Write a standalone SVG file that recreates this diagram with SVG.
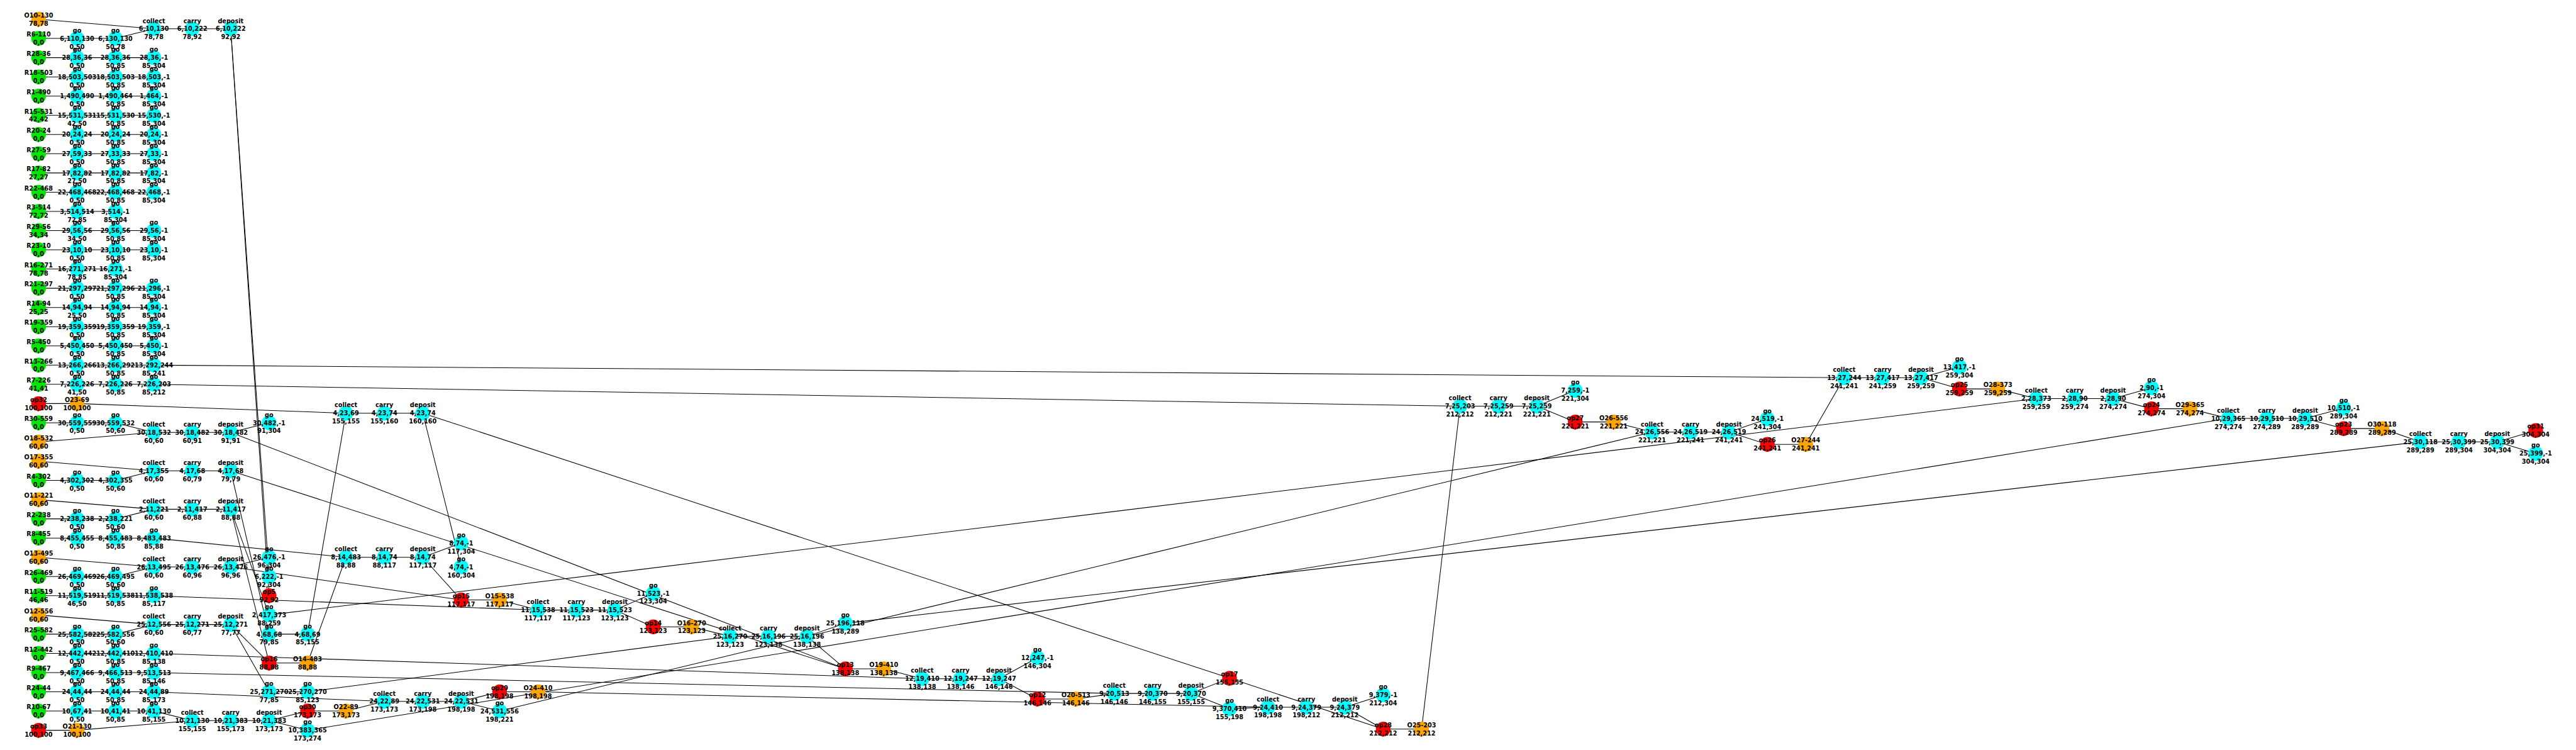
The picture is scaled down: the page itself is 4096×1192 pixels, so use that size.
<svg xmlns="http://www.w3.org/2000/svg" width="4096" height="1192" viewBox="0 0 4096 1192">
<style>
.c{fill:#00ffff}.g{fill:#00e600}.o{fill:#ffa500}.r{fill:#ff0000}
text{font-family:"DejaVu Sans","Liberation Sans",sans-serif;font-size:12px;font-weight:bold;text-anchor:middle;fill:#000}
#edges line{stroke:#000;stroke-width:1.3}
</style>
<rect width="4096" height="1192" fill="#fff"/>
<g transform="scale(0.808)">
<g id="edges">
<line x1="76" y1="75.6" x2="151.6" y2="75.6"/><line x1="151.6" y1="75.6" x2="227.2" y2="75.6"/><line x1="227.2" y1="75.6" x2="302.8" y2="56.7"/>
<line x1="76" y1="37.8" x2="302.8" y2="56.7"/><line x1="302.8" y1="56.7" x2="378.4" y2="56.7"/><line x1="378.4" y1="56.7" x2="454" y2="56.7"/>
<line x1="454" y1="56.7" x2="529.6" y2="1134"/><line x1="454" y1="56.7" x2="529.6" y2="1171.8"/>
<line x1="76" y1="113.4" x2="151.6" y2="113.4"/><line x1="151.6" y1="113.4" x2="227.2" y2="113.4"/><line x1="227.2" y1="113.4" x2="302.8" y2="113.4"/>
<line x1="76" y1="151.2" x2="151.6" y2="151.2"/><line x1="151.6" y1="151.2" x2="227.2" y2="151.2"/><line x1="227.2" y1="151.2" x2="302.8" y2="151.2"/>
<line x1="76" y1="189" x2="151.6" y2="189"/><line x1="151.6" y1="189" x2="227.2" y2="189"/><line x1="227.2" y1="189" x2="302.8" y2="189"/>
<line x1="76" y1="226.8" x2="151.6" y2="226.8"/><line x1="151.6" y1="226.8" x2="227.2" y2="226.8"/><line x1="227.2" y1="226.8" x2="302.8" y2="226.8"/>
<line x1="76" y1="264.6" x2="151.6" y2="264.6"/><line x1="151.6" y1="264.6" x2="227.2" y2="264.6"/><line x1="227.2" y1="264.6" x2="302.8" y2="264.6"/>
<line x1="76" y1="302.4" x2="151.6" y2="302.4"/><line x1="151.6" y1="302.4" x2="227.2" y2="302.4"/><line x1="227.2" y1="302.4" x2="302.8" y2="302.4"/>
<line x1="76" y1="340.2" x2="151.6" y2="340.2"/><line x1="151.6" y1="340.2" x2="227.2" y2="340.2"/><line x1="227.2" y1="340.2" x2="302.8" y2="340.2"/>
<line x1="76" y1="378" x2="151.6" y2="378"/><line x1="151.6" y1="378" x2="227.2" y2="378"/><line x1="227.2" y1="378" x2="302.8" y2="378"/>
<line x1="76" y1="415.8" x2="151.6" y2="415.8"/><line x1="151.6" y1="415.8" x2="227.2" y2="415.8"/>
<line x1="76" y1="453.6" x2="151.6" y2="453.6"/><line x1="151.6" y1="453.6" x2="227.2" y2="453.6"/><line x1="227.2" y1="453.6" x2="302.8" y2="453.6"/>
<line x1="76" y1="491.4" x2="151.6" y2="491.4"/><line x1="151.6" y1="491.4" x2="227.2" y2="491.4"/><line x1="227.2" y1="491.4" x2="302.8" y2="491.4"/>
<line x1="76" y1="529.2" x2="151.6" y2="529.2"/><line x1="151.6" y1="529.2" x2="227.2" y2="529.2"/>
<line x1="76" y1="567" x2="151.6" y2="567"/><line x1="151.6" y1="567" x2="227.2" y2="567"/><line x1="227.2" y1="567" x2="302.8" y2="567"/>
<line x1="76" y1="604.8" x2="151.6" y2="604.8"/><line x1="151.6" y1="604.8" x2="227.2" y2="604.8"/><line x1="227.2" y1="604.8" x2="302.8" y2="604.8"/>
<line x1="76" y1="642.6" x2="151.6" y2="642.6"/><line x1="151.6" y1="642.6" x2="227.2" y2="642.6"/><line x1="227.2" y1="642.6" x2="302.8" y2="642.6"/>
<line x1="76" y1="680.4" x2="151.6" y2="680.4"/><line x1="151.6" y1="680.4" x2="227.2" y2="680.4"/><line x1="227.2" y1="680.4" x2="302.8" y2="680.4"/>
<line x1="76" y1="718.2" x2="151.6" y2="718.2"/><line x1="151.6" y1="718.2" x2="227.2" y2="718.2"/><line x1="227.2" y1="718.2" x2="302.8" y2="718.2"/>
<line x1="302.8" y1="718.2" x2="3629.2" y2="743"/>
<line x1="76" y1="756" x2="151.6" y2="756"/><line x1="151.6" y1="756" x2="227.2" y2="756"/><line x1="227.2" y1="756" x2="302.8" y2="756"/>
<line x1="302.8" y1="756" x2="2873.2" y2="799"/>
<line x1="76" y1="793.8" x2="151.6" y2="793.8"/><line x1="151.6" y1="793.8" x2="680.8" y2="812.7"/>
<line x1="76" y1="831.6" x2="151.6" y2="831.6"/><line x1="151.6" y1="831.6" x2="227.2" y2="831.6"/><line x1="227.2" y1="831.6" x2="302.8" y2="850.5"/>
<line x1="76" y1="869.4" x2="302.8" y2="850.5"/><line x1="302.8" y1="850.5" x2="378.4" y2="850.5"/><line x1="378.4" y1="850.5" x2="454" y2="850.5"/>
<line x1="454" y1="850.5" x2="529.6" y2="831.6"/><line x1="454" y1="850.5" x2="1663.6" y2="1315.7"/>
<line x1="76" y1="945" x2="151.6" y2="945"/><line x1="151.6" y1="945" x2="227.2" y2="945"/><line x1="227.2" y1="945" x2="302.8" y2="926.1"/>
<line x1="76" y1="907.2" x2="302.8" y2="926.1"/><line x1="302.8" y1="926.1" x2="378.4" y2="926.1"/><line x1="378.4" y1="926.1" x2="454" y2="926.1"/>
<line x1="454" y1="926.1" x2="529.6" y2="1247.4"/><line x1="454" y1="926.1" x2="1663.6" y2="1315.7"/>
<line x1="76" y1="1020.6" x2="151.6" y2="1020.6"/><line x1="151.6" y1="1020.6" x2="227.2" y2="1020.6"/><line x1="227.2" y1="1020.6" x2="302.8" y2="1001.7"/>
<line x1="76" y1="982.8" x2="302.8" y2="1001.7"/><line x1="302.8" y1="1001.7" x2="378.4" y2="1001.7"/><line x1="378.4" y1="1001.7" x2="454" y2="1001.7"/>
<line x1="454" y1="1001.7" x2="529.6" y2="1209.6"/><line x1="454" y1="1001.7" x2="529.6" y2="1304.1"/>
<line x1="76" y1="1058.4" x2="151.6" y2="1058.4"/><line x1="151.6" y1="1058.4" x2="227.2" y2="1058.4"/><line x1="227.2" y1="1058.4" x2="302.8" y2="1058.4"/>
<line x1="302.8" y1="1058.4" x2="680.8" y2="1096.2"/>
<line x1="76" y1="1134" x2="151.6" y2="1134"/><line x1="151.6" y1="1134" x2="227.2" y2="1134"/><line x1="227.2" y1="1134" x2="302.8" y2="1115.1"/>
<line x1="76" y1="1096.2" x2="302.8" y2="1115.1"/><line x1="302.8" y1="1115.1" x2="378.4" y2="1115.1"/><line x1="378.4" y1="1115.1" x2="454" y2="1115.1"/>
<line x1="454" y1="1115.1" x2="529.6" y2="1096.2"/><line x1="454" y1="1115.1" x2="907.6" y2="1180"/>
<line x1="76" y1="1171.8" x2="151.6" y2="1171.8"/><line x1="151.6" y1="1171.8" x2="227.2" y2="1171.8"/><line x1="227.2" y1="1171.8" x2="302.8" y2="1171.8"/>
<line x1="302.8" y1="1171.8" x2="1058.8" y2="1200"/>
<line x1="76" y1="1247.4" x2="151.6" y2="1247.4"/><line x1="151.6" y1="1247.4" x2="227.2" y2="1247.4"/><line x1="227.2" y1="1247.4" x2="302.8" y2="1228.5"/>
<line x1="76" y1="1209.6" x2="302.8" y2="1228.5"/><line x1="302.8" y1="1228.5" x2="378.4" y2="1228.5"/><line x1="378.4" y1="1228.5" x2="454" y2="1228.5"/>
<line x1="454" y1="1228.5" x2="529.6" y2="1360.8"/><line x1="454" y1="1228.5" x2="529.6" y2="1304.1"/>
<line x1="76" y1="1285.2" x2="151.6" y2="1285.2"/><line x1="151.6" y1="1285.2" x2="227.2" y2="1285.2"/><line x1="227.2" y1="1285.2" x2="302.8" y2="1285.2"/>
<line x1="302.8" y1="1285.2" x2="1814.8" y2="1335"/>
<line x1="76" y1="1323" x2="151.6" y2="1323"/><line x1="151.6" y1="1323" x2="227.2" y2="1323"/><line x1="227.2" y1="1323" x2="302.8" y2="1323"/>
<line x1="302.8" y1="1323" x2="2192.8" y2="1364"/>
<line x1="76" y1="1360.8" x2="151.6" y2="1360.8"/><line x1="151.6" y1="1360.8" x2="227.2" y2="1360.8"/><line x1="227.2" y1="1360.8" x2="302.8" y2="1360.8"/>
<line x1="302.8" y1="1360.8" x2="756.4" y2="1379.7"/>
<line x1="76" y1="1398.6" x2="151.6" y2="1398.6"/><line x1="151.6" y1="1398.6" x2="227.2" y2="1398.6"/><line x1="227.2" y1="1398.6" x2="302.8" y2="1398.6"/>
<line x1="302.8" y1="1398.6" x2="378.4" y2="1417.5"/>
<line x1="76" y1="1436.4" x2="151.6" y2="1436.4"/><line x1="151.6" y1="1436.4" x2="378.4" y2="1417.5"/>
<line x1="378.4" y1="1417.5" x2="454" y2="1417.5"/><line x1="454" y1="1417.5" x2="529.6" y2="1417.5"/>
<line x1="529.6" y1="1417.5" x2="605.2" y2="1398.6"/><line x1="529.6" y1="1417.5" x2="605.2" y2="1436.4"/>
<line x1="529.6" y1="1247.4" x2="605.2" y2="1247.4"/><line x1="605.2" y1="1247.4" x2="680.8" y2="812.7"/>
<line x1="680.8" y1="812.7" x2="756.4" y2="812.7"/><line x1="756.4" y1="812.7" x2="832" y2="812.7"/>
<line x1="832" y1="812.7" x2="907.6" y2="1115.1"/><line x1="832" y1="812.7" x2="2419.6" y2="1334"/>
<line x1="529.6" y1="1304.1" x2="605.2" y2="1304.1"/><line x1="605.2" y1="1304.1" x2="680.8" y2="1096.2"/>
<line x1="680.8" y1="1096.2" x2="756.4" y2="1096.2"/><line x1="756.4" y1="1096.2" x2="832" y2="1096.2"/>
<line x1="832" y1="1096.2" x2="907.6" y2="1068"/><line x1="832" y1="1096.2" x2="907.6" y2="1180"/>
<line x1="907.6" y1="1180" x2="983.2" y2="1180"/><line x1="983.2" y1="1180" x2="1058.8" y2="1200"/>
<line x1="1058.8" y1="1200" x2="1134.4" y2="1200"/><line x1="1134.4" y1="1200" x2="1210" y2="1200"/>
<line x1="1210" y1="1200" x2="1285.6" y2="1167"/><line x1="1210" y1="1200" x2="1285.6" y2="1233"/>
<line x1="1285.6" y1="1233" x2="1361.2" y2="1233"/><line x1="1361.2" y1="1233" x2="1436.8" y2="1251.7"/>
<line x1="529.6" y1="1360.8" x2="605.2" y2="1360.8"/><line x1="605.2" y1="1360.8" x2="1436.8" y2="1251.7"/>
<line x1="1436.8" y1="1251.7" x2="1512.4" y2="1251.7"/><line x1="1512.4" y1="1251.7" x2="1588" y2="1251.7"/>
<line x1="1588" y1="1251.7" x2="1663.6" y2="1226"/><line x1="1588" y1="1251.7" x2="1663.6" y2="1315.7"/>
<line x1="1663.6" y1="1226" x2="4763.2" y2="869"/>
<line x1="1663.6" y1="1315.7" x2="1739.2" y2="1315.7"/><line x1="1739.2" y1="1315.7" x2="1814.8" y2="1335"/>
<line x1="1814.8" y1="1335" x2="1890.4" y2="1335"/><line x1="1890.4" y1="1335" x2="1966" y2="1335"/>
<line x1="1966" y1="1335" x2="2041.6" y2="1294"/><line x1="1966" y1="1335" x2="2041.6" y2="1375"/>
<line x1="2041.6" y1="1375" x2="2117.2" y2="1375"/><line x1="2117.2" y1="1375" x2="2192.8" y2="1364"/>
<line x1="2192.8" y1="1364" x2="2268.4" y2="1364"/><line x1="2268.4" y1="1364" x2="2344" y2="1364"/>
<line x1="2344" y1="1364" x2="2419.6" y2="1334"/><line x1="2344" y1="1364" x2="2419.6" y2="1394"/>
<line x1="2419.6" y1="1394" x2="2495.2" y2="1391"/>
<line x1="2495.2" y1="1391" x2="2570.8" y2="1391"/><line x1="2570.8" y1="1391" x2="2646.4" y2="1391"/>
<line x1="2646.4" y1="1391" x2="2722" y2="1367"/><line x1="2646.4" y1="1391" x2="2722" y2="1434"/>
<line x1="2419.6" y1="1334" x2="2722" y2="1434"/>
<line x1="2722" y1="1434" x2="2797.6" y2="1434"/><line x1="2797.6" y1="1434" x2="2873.2" y2="799"/>
<line x1="605.2" y1="1398.6" x2="680.8" y2="1398.6"/><line x1="680.8" y1="1398.6" x2="756.4" y2="1379.7"/>
<line x1="756.4" y1="1379.7" x2="832" y2="1379.7"/><line x1="832" y1="1379.7" x2="907.6" y2="1379.7"/>
<line x1="907.6" y1="1379.7" x2="983.2" y2="1360.8"/><line x1="907.6" y1="1379.7" x2="983.2" y2="1398.6"/>
<line x1="983.2" y1="1360.8" x2="1058.8" y2="1360.8"/><line x1="1058.8" y1="1360.8" x2="2495.2" y2="1391"/>
<line x1="983.2" y1="1398.6" x2="3251.2" y2="850"/>
<line x1="605.2" y1="1436.4" x2="4385.2" y2="823"/>
<line x1="529.6" y1="1209.6" x2="4007.2" y2="784"/>
<line x1="2873.2" y1="799" x2="2948.8" y2="799"/><line x1="2948.8" y1="799" x2="3024.4" y2="799"/>
<line x1="3024.4" y1="799" x2="3100" y2="768"/><line x1="3024.4" y1="799" x2="3100" y2="830"/>
<line x1="3100" y1="830" x2="3175.6" y2="830"/><line x1="3175.6" y1="830" x2="3251.2" y2="850"/>
<line x1="3251.2" y1="850" x2="3326.8" y2="850"/><line x1="3326.8" y1="850" x2="3402.4" y2="850"/>
<line x1="3402.4" y1="850" x2="3478" y2="824"/><line x1="3402.4" y1="850" x2="3478" y2="874"/>
<line x1="3478" y1="874" x2="3553.6" y2="874"/><line x1="3553.6" y1="874" x2="3629.2" y2="743"/>
<line x1="3629.2" y1="743" x2="3704.8" y2="743"/><line x1="3704.8" y1="743" x2="3780.4" y2="743"/>
<line x1="3780.4" y1="743" x2="3856" y2="721.7"/><line x1="3780.4" y1="743" x2="3856" y2="765"/>
<line x1="3856" y1="765" x2="3931.6" y2="765"/><line x1="3931.6" y1="765" x2="4007.2" y2="784"/>
<line x1="4007.2" y1="784" x2="4082.8" y2="784"/><line x1="4082.8" y1="784" x2="4158.4" y2="784"/>
<line x1="4158.4" y1="784" x2="4234" y2="763"/><line x1="4158.4" y1="784" x2="4234" y2="804"/>
<line x1="4234" y1="804" x2="4309.6" y2="804"/><line x1="4309.6" y1="804" x2="4385.2" y2="823"/>
<line x1="4385.2" y1="823" x2="4460.8" y2="823"/><line x1="4460.8" y1="823" x2="4536.4" y2="823"/>
<line x1="4536.4" y1="823" x2="4612" y2="803"/><line x1="4536.4" y1="823" x2="4612" y2="843"/>
<line x1="4612" y1="843" x2="4687.6" y2="843"/><line x1="4687.6" y1="843" x2="4763.2" y2="869"/>
<line x1="4763.2" y1="869" x2="4838.8" y2="869"/><line x1="4838.8" y1="869" x2="4914.4" y2="869"/>
<line x1="4914.4" y1="869" x2="4990" y2="846.7"/><line x1="4914.4" y1="869" x2="4990" y2="892"/>
</g>
<g id="nodes">
<g id="O10-130" transform="translate(76,37.8)"><circle class="o" r="14.5"/><text y="-3.4">O10-130<tspan x="0" dy="16">78,78</tspan></text></g>
<g id="collect_6_10_130" transform="translate(302.8,56.7)"><circle class="c" r="14.5"/><text y="-11.5">collect<tspan x="0" dy="16">6,10,130</tspan><tspan x="0" dy="16">78,78</tspan></text></g>
<g id="carry_6_10_222" transform="translate(378.4,56.7)"><circle class="c" r="14.5"/><text y="-11.5">carry<tspan x="0" dy="16">6,10,222</tspan><tspan x="0" dy="16">78,92</tspan></text></g>
<g id="deposit_6_10_222" transform="translate(454,56.7)"><circle class="c" r="14.5"/><text y="-11.5">deposit<tspan x="0" dy="16">6,10,222</tspan><tspan x="0" dy="16">92,92</tspan></text></g>
<g id="R6-110" transform="translate(76,75.6)"><circle class="g" r="14.5"/><text y="-3.4">R6-110<tspan x="0" dy="16">0,0</tspan></text></g>
<g id="go_6_110_130" transform="translate(151.6,75.6)"><circle class="c" r="14.5"/><text y="-11.5">go<tspan x="0" dy="16">6,110,130</tspan><tspan x="0" dy="16">0,50</tspan></text></g>
<g id="go_6_130_130" transform="translate(227.2,75.6)"><circle class="c" r="14.5"/><text y="-11.5">go<tspan x="0" dy="16">6,130,130</tspan><tspan x="0" dy="16">50,78</tspan></text></g>
<g id="R28-36" transform="translate(76,113.4)"><circle class="g" r="14.5"/><text y="-3.4">R28-36<tspan x="0" dy="16">0,0</tspan></text></g>
<g id="go_28_36_36_a" transform="translate(151.6,113.4)"><circle class="c" r="14.5"/><text y="-11.5">go<tspan x="0" dy="16">28,36,36</tspan><tspan x="0" dy="16">0,50</tspan></text></g>
<g id="go_28_36_36_b" transform="translate(227.2,113.4)"><circle class="c" r="14.5"/><text y="-11.5">go<tspan x="0" dy="16">28,36,36</tspan><tspan x="0" dy="16">50,85</tspan></text></g>
<g id="go_28_36_end" transform="translate(302.8,113.4)"><circle class="c" r="14.5"/><text y="-11.5">go<tspan x="0" dy="16">28,36,-1</tspan><tspan x="0" dy="16">85,304</tspan></text></g>
<g id="R18-503" transform="translate(76,151.2)"><circle class="g" r="14.5"/><text y="-3.4">R18-503<tspan x="0" dy="16">0,0</tspan></text></g>
<g id="go_18_503_503_a" transform="translate(151.6,151.2)"><circle class="c" r="14.5"/><text y="-11.5">go<tspan x="0" dy="16">18,503,503</tspan><tspan x="0" dy="16">0,50</tspan></text></g>
<g id="go_18_503_503_b" transform="translate(227.2,151.2)"><circle class="c" r="14.5"/><text y="-11.5">go<tspan x="0" dy="16">18,503,503</tspan><tspan x="0" dy="16">50,85</tspan></text></g>
<g id="go_18_503_end" transform="translate(302.8,151.2)"><circle class="c" r="14.5"/><text y="-11.5">go<tspan x="0" dy="16">18,503,-1</tspan><tspan x="0" dy="16">85,304</tspan></text></g>
<g id="R1-490" transform="translate(76,189)"><circle class="g" r="14.5"/><text y="-3.4">R1-490<tspan x="0" dy="16">0,0</tspan></text></g>
<g id="go_1_490_490" transform="translate(151.6,189)"><circle class="c" r="14.5"/><text y="-11.5">go<tspan x="0" dy="16">1,490,490</tspan><tspan x="0" dy="16">0,50</tspan></text></g>
<g id="go_1_490_464" transform="translate(227.2,189)"><circle class="c" r="14.5"/><text y="-11.5">go<tspan x="0" dy="16">1,490,464</tspan><tspan x="0" dy="16">50,85</tspan></text></g>
<g id="go_1_464_end" transform="translate(302.8,189)"><circle class="c" r="14.5"/><text y="-11.5">go<tspan x="0" dy="16">1,464,-1</tspan><tspan x="0" dy="16">85,304</tspan></text></g>
<g id="R15-531" transform="translate(76,226.8)"><circle class="g" r="14.5"/><text y="-3.4">R15-531<tspan x="0" dy="16">42,42</tspan></text></g>
<g id="go_15_531_531" transform="translate(151.6,226.8)"><circle class="c" r="14.5"/><text y="-11.5">go<tspan x="0" dy="16">15,531,531</tspan><tspan x="0" dy="16">42,50</tspan></text></g>
<g id="go_15_531_530" transform="translate(227.2,226.8)"><circle class="c" r="14.5"/><text y="-11.5">go<tspan x="0" dy="16">15,531,530</tspan><tspan x="0" dy="16">50,85</tspan></text></g>
<g id="go_15_530_end" transform="translate(302.8,226.8)"><circle class="c" r="14.5"/><text y="-11.5">go<tspan x="0" dy="16">15,530,-1</tspan><tspan x="0" dy="16">85,304</tspan></text></g>
<g id="R20-24" transform="translate(76,264.6)"><circle class="g" r="14.5"/><text y="-3.4">R20-24<tspan x="0" dy="16">0,0</tspan></text></g>
<g id="go_20_24_24_a" transform="translate(151.6,264.6)"><circle class="c" r="14.5"/><text y="-11.5">go<tspan x="0" dy="16">20,24,24</tspan><tspan x="0" dy="16">0,50</tspan></text></g>
<g id="go_20_24_24_b" transform="translate(227.2,264.6)"><circle class="c" r="14.5"/><text y="-11.5">go<tspan x="0" dy="16">20,24,24</tspan><tspan x="0" dy="16">50,85</tspan></text></g>
<g id="go_20_24_end" transform="translate(302.8,264.6)"><circle class="c" r="14.5"/><text y="-11.5">go<tspan x="0" dy="16">20,24,-1</tspan><tspan x="0" dy="16">85,304</tspan></text></g>
<g id="R27-59" transform="translate(76,302.4)"><circle class="g" r="14.5"/><text y="-3.4">R27-59<tspan x="0" dy="16">0,0</tspan></text></g>
<g id="go_27_59_33" transform="translate(151.6,302.4)"><circle class="c" r="14.5"/><text y="-11.5">go<tspan x="0" dy="16">27,59,33</tspan><tspan x="0" dy="16">0,50</tspan></text></g>
<g id="go_27_33_33" transform="translate(227.2,302.4)"><circle class="c" r="14.5"/><text y="-11.5">go<tspan x="0" dy="16">27,33,33</tspan><tspan x="0" dy="16">50,85</tspan></text></g>
<g id="go_27_33_end" transform="translate(302.8,302.4)"><circle class="c" r="14.5"/><text y="-11.5">go<tspan x="0" dy="16">27,33,-1</tspan><tspan x="0" dy="16">85,304</tspan></text></g>
<g id="R17-82" transform="translate(76,340.2)"><circle class="g" r="14.5"/><text y="-3.4">R17-82<tspan x="0" dy="16">27,27</tspan></text></g>
<g id="go_17_82_82_a" transform="translate(151.6,340.2)"><circle class="c" r="14.5"/><text y="-11.5">go<tspan x="0" dy="16">17,82,82</tspan><tspan x="0" dy="16">27,50</tspan></text></g>
<g id="go_17_82_82_b" transform="translate(227.2,340.2)"><circle class="c" r="14.5"/><text y="-11.5">go<tspan x="0" dy="16">17,82,82</tspan><tspan x="0" dy="16">50,85</tspan></text></g>
<g id="go_17_82_end" transform="translate(302.8,340.2)"><circle class="c" r="14.5"/><text y="-11.5">go<tspan x="0" dy="16">17,82,-1</tspan><tspan x="0" dy="16">85,304</tspan></text></g>
<g id="R22-468" transform="translate(76,378)"><circle class="g" r="14.5"/><text y="-3.4">R22-468<tspan x="0" dy="16">0,0</tspan></text></g>
<g id="go_22_468_468_a" transform="translate(151.6,378)"><circle class="c" r="14.5"/><text y="-11.5">go<tspan x="0" dy="16">22,468,468</tspan><tspan x="0" dy="16">0,50</tspan></text></g>
<g id="go_22_468_468_b" transform="translate(227.2,378)"><circle class="c" r="14.5"/><text y="-11.5">go<tspan x="0" dy="16">22,468,468</tspan><tspan x="0" dy="16">50,85</tspan></text></g>
<g id="go_22_468_end" transform="translate(302.8,378)"><circle class="c" r="14.5"/><text y="-11.5">go<tspan x="0" dy="16">22,468,-1</tspan><tspan x="0" dy="16">85,304</tspan></text></g>
<g id="R3-514" transform="translate(76,415.8)"><circle class="g" r="14.5"/><text y="-3.4">R3-514<tspan x="0" dy="16">72,72</tspan></text></g>
<g id="go_3_514_514" transform="translate(151.6,415.8)"><circle class="c" r="14.5"/><text y="-11.5">go<tspan x="0" dy="16">3,514,514</tspan><tspan x="0" dy="16">72,85</tspan></text></g>
<g id="go_3_514_end" transform="translate(227.2,415.8)"><circle class="c" r="14.5"/><text y="-11.5">go<tspan x="0" dy="16">3,514,-1</tspan><tspan x="0" dy="16">85,304</tspan></text></g>
<g id="R29-56" transform="translate(76,453.6)"><circle class="g" r="14.5"/><text y="-3.4">R29-56<tspan x="0" dy="16">34,34</tspan></text></g>
<g id="go_29_56_56_a" transform="translate(151.6,453.6)"><circle class="c" r="14.5"/><text y="-11.5">go<tspan x="0" dy="16">29,56,56</tspan><tspan x="0" dy="16">34,50</tspan></text></g>
<g id="go_29_56_56_b" transform="translate(227.2,453.6)"><circle class="c" r="14.5"/><text y="-11.5">go<tspan x="0" dy="16">29,56,56</tspan><tspan x="0" dy="16">50,85</tspan></text></g>
<g id="go_29_56_end" transform="translate(302.8,453.6)"><circle class="c" r="14.5"/><text y="-11.5">go<tspan x="0" dy="16">29,56,-1</tspan><tspan x="0" dy="16">85,304</tspan></text></g>
<g id="R23-10" transform="translate(76,491.4)"><circle class="g" r="14.5"/><text y="-3.4">R23-10<tspan x="0" dy="16">0,0</tspan></text></g>
<g id="go_23_10_10_a" transform="translate(151.6,491.4)"><circle class="c" r="14.5"/><text y="-11.5">go<tspan x="0" dy="16">23,10,10</tspan><tspan x="0" dy="16">0,50</tspan></text></g>
<g id="go_23_10_10_b" transform="translate(227.2,491.4)"><circle class="c" r="14.5"/><text y="-11.5">go<tspan x="0" dy="16">23,10,10</tspan><tspan x="0" dy="16">50,85</tspan></text></g>
<g id="go_23_10_end" transform="translate(302.8,491.4)"><circle class="c" r="14.5"/><text y="-11.5">go<tspan x="0" dy="16">23,10,-1</tspan><tspan x="0" dy="16">85,304</tspan></text></g>
<g id="R16-271" transform="translate(76,529.2)"><circle class="g" r="14.5"/><text y="-3.4">R16-271<tspan x="0" dy="16">78,78</tspan></text></g>
<g id="go_16_271_271" transform="translate(151.6,529.2)"><circle class="c" r="14.5"/><text y="-11.5">go<tspan x="0" dy="16">16,271,271</tspan><tspan x="0" dy="16">78,85</tspan></text></g>
<g id="go_16_271_end" transform="translate(227.2,529.2)"><circle class="c" r="14.5"/><text y="-11.5">go<tspan x="0" dy="16">16,271,-1</tspan><tspan x="0" dy="16">85,304</tspan></text></g>
<g id="R21-297" transform="translate(76,567)"><circle class="g" r="14.5"/><text y="-3.4">R21-297<tspan x="0" dy="16">0,0</tspan></text></g>
<g id="go_21_297_297" transform="translate(151.6,567)"><circle class="c" r="14.5"/><text y="-11.5">go<tspan x="0" dy="16">21,297,297</tspan><tspan x="0" dy="16">0,50</tspan></text></g>
<g id="go_21_297_296" transform="translate(227.2,567)"><circle class="c" r="14.5"/><text y="-11.5">go<tspan x="0" dy="16">21,297,296</tspan><tspan x="0" dy="16">50,85</tspan></text></g>
<g id="go_21_296_end" transform="translate(302.8,567)"><circle class="c" r="14.5"/><text y="-11.5">go<tspan x="0" dy="16">21,296,-1</tspan><tspan x="0" dy="16">85,304</tspan></text></g>
<g id="R14-94" transform="translate(76,604.8)"><circle class="g" r="14.5"/><text y="-3.4">R14-94<tspan x="0" dy="16">25,25</tspan></text></g>
<g id="go_14_94_94_a" transform="translate(151.6,604.8)"><circle class="c" r="14.5"/><text y="-11.5">go<tspan x="0" dy="16">14,94,94</tspan><tspan x="0" dy="16">25,50</tspan></text></g>
<g id="go_14_94_94_b" transform="translate(227.2,604.8)"><circle class="c" r="14.5"/><text y="-11.5">go<tspan x="0" dy="16">14,94,94</tspan><tspan x="0" dy="16">50,85</tspan></text></g>
<g id="go_14_94_end" transform="translate(302.8,604.8)"><circle class="c" r="14.5"/><text y="-11.5">go<tspan x="0" dy="16">14,94,-1</tspan><tspan x="0" dy="16">85,304</tspan></text></g>
<g id="R19-359" transform="translate(76,642.6)"><circle class="g" r="14.5"/><text y="-3.4">R19-359<tspan x="0" dy="16">0,0</tspan></text></g>
<g id="go_19_359_359_a" transform="translate(151.6,642.6)"><circle class="c" r="14.5"/><text y="-11.5">go<tspan x="0" dy="16">19,359,359</tspan><tspan x="0" dy="16">0,50</tspan></text></g>
<g id="go_19_359_359_b" transform="translate(227.2,642.6)"><circle class="c" r="14.5"/><text y="-11.5">go<tspan x="0" dy="16">19,359,359</tspan><tspan x="0" dy="16">50,85</tspan></text></g>
<g id="go_19_359_end" transform="translate(302.8,642.6)"><circle class="c" r="14.5"/><text y="-11.5">go<tspan x="0" dy="16">19,359,-1</tspan><tspan x="0" dy="16">85,304</tspan></text></g>
<g id="R5-450" transform="translate(76,680.4)"><circle class="g" r="14.5"/><text y="-3.4">R5-450<tspan x="0" dy="16">0,0</tspan></text></g>
<g id="go_5_450_450_a" transform="translate(151.6,680.4)"><circle class="c" r="14.5"/><text y="-11.5">go<tspan x="0" dy="16">5,450,450</tspan><tspan x="0" dy="16">0,50</tspan></text></g>
<g id="go_5_450_450_b" transform="translate(227.2,680.4)"><circle class="c" r="14.5"/><text y="-11.5">go<tspan x="0" dy="16">5,450,450</tspan><tspan x="0" dy="16">50,85</tspan></text></g>
<g id="go_5_450_end" transform="translate(302.8,680.4)"><circle class="c" r="14.5"/><text y="-11.5">go<tspan x="0" dy="16">5,450,-1</tspan><tspan x="0" dy="16">85,304</tspan></text></g>
<g id="R13-266" transform="translate(76,718.2)"><circle class="g" r="14.5"/><text y="-3.4">R13-266<tspan x="0" dy="16">0,0</tspan></text></g>
<g id="go_13_266_266" transform="translate(151.6,718.2)"><circle class="c" r="14.5"/><text y="-11.5">go<tspan x="0" dy="16">13,266,266</tspan><tspan x="0" dy="16">0,50</tspan></text></g>
<g id="go_13_266_292" transform="translate(227.2,718.2)"><circle class="c" r="14.5"/><text y="-11.5">go<tspan x="0" dy="16">13,266,292</tspan><tspan x="0" dy="16">50,85</tspan></text></g>
<g id="go_13_292_244" transform="translate(302.8,718.2)"><circle class="c" r="14.5"/><text y="-11.5">go<tspan x="0" dy="16">13,292,244</tspan><tspan x="0" dy="16">85,241</tspan></text></g>
<g id="R7-226" transform="translate(76,756)"><circle class="g" r="14.5"/><text y="-3.4">R7-226<tspan x="0" dy="16">41,41</tspan></text></g>
<g id="go_7_226_226_a" transform="translate(151.6,756)"><circle class="c" r="14.5"/><text y="-11.5">go<tspan x="0" dy="16">7,226,226</tspan><tspan x="0" dy="16">41,50</tspan></text></g>
<g id="go_7_226_226_b" transform="translate(227.2,756)"><circle class="c" r="14.5"/><text y="-11.5">go<tspan x="0" dy="16">7,226,226</tspan><tspan x="0" dy="16">50,85</tspan></text></g>
<g id="go_7_226_203" transform="translate(302.8,756)"><circle class="c" r="14.5"/><text y="-11.5">go<tspan x="0" dy="16">7,226,203</tspan><tspan x="0" dy="16">85,212</tspan></text></g>
<g id="op32" transform="translate(76,793.8)"><circle class="r" r="14.5"/><text y="-3.4">op32<tspan x="0" dy="16">100,100</tspan></text></g>
<g id="O23-69" transform="translate(151.6,793.8)"><circle class="o" r="14.5"/><text y="-3.4">O23-69<tspan x="0" dy="16">100,100</tspan></text></g>
<g id="R30-559" transform="translate(76,831.6)"><circle class="g" r="14.5"/><text y="-3.4">R30-559<tspan x="0" dy="16">0,0</tspan></text></g>
<g id="go_30_559_559" transform="translate(151.6,831.6)"><circle class="c" r="14.5"/><text y="-11.5">go<tspan x="0" dy="16">30,559,559</tspan><tspan x="0" dy="16">0,50</tspan></text></g>
<g id="go_30_559_532" transform="translate(227.2,831.6)"><circle class="c" r="14.5"/><text y="-11.5">go<tspan x="0" dy="16">30,559,532</tspan><tspan x="0" dy="16">50,60</tspan></text></g>
<g id="go_30_482_end" transform="translate(529.6,831.6)"><circle class="c" r="14.5"/><text y="-11.5">go<tspan x="0" dy="16">30,482,-1</tspan><tspan x="0" dy="16">91,304</tspan></text></g>
<g id="collect_30_18_532" transform="translate(302.8,850.5)"><circle class="c" r="14.5"/><text y="-11.5">collect<tspan x="0" dy="16">30,18,532</tspan><tspan x="0" dy="16">60,60</tspan></text></g>
<g id="carry_30_18_482" transform="translate(378.4,850.5)"><circle class="c" r="14.5"/><text y="-11.5">carry<tspan x="0" dy="16">30,18,482</tspan><tspan x="0" dy="16">60,91</tspan></text></g>
<g id="deposit_30_18_482" transform="translate(454,850.5)"><circle class="c" r="14.5"/><text y="-11.5">deposit<tspan x="0" dy="16">30,18,482</tspan><tspan x="0" dy="16">91,91</tspan></text></g>
<g id="O18-532" transform="translate(76,869.4)"><circle class="o" r="14.5"/><text y="-3.4">O18-532<tspan x="0" dy="16">60,60</tspan></text></g>
<g id="O17-355" transform="translate(76,907.2)"><circle class="o" r="14.5"/><text y="-3.4">O17-355<tspan x="0" dy="16">60,60</tspan></text></g>
<g id="collect_4_17_355" transform="translate(302.8,926.1)"><circle class="c" r="14.5"/><text y="-11.5">collect<tspan x="0" dy="16">4,17,355</tspan><tspan x="0" dy="16">60,60</tspan></text></g>
<g id="carry_4_17_68" transform="translate(378.4,926.1)"><circle class="c" r="14.5"/><text y="-11.5">carry<tspan x="0" dy="16">4,17,68</tspan><tspan x="0" dy="16">60,79</tspan></text></g>
<g id="deposit_4_17_68" transform="translate(454,926.1)"><circle class="c" r="14.5"/><text y="-11.5">deposit<tspan x="0" dy="16">4,17,68</tspan><tspan x="0" dy="16">79,79</tspan></text></g>
<g id="R4-302" transform="translate(76,945)"><circle class="g" r="14.5"/><text y="-3.4">R4-302<tspan x="0" dy="16">0,0</tspan></text></g>
<g id="go_4_302_302" transform="translate(151.6,945)"><circle class="c" r="14.5"/><text y="-11.5">go<tspan x="0" dy="16">4,302,302</tspan><tspan x="0" dy="16">0,50</tspan></text></g>
<g id="go_4_302_355" transform="translate(227.2,945)"><circle class="c" r="14.5"/><text y="-11.5">go<tspan x="0" dy="16">4,302,355</tspan><tspan x="0" dy="16">50,60</tspan></text></g>
<g id="O11-221" transform="translate(76,982.8)"><circle class="o" r="14.5"/><text y="-3.4">O11-221<tspan x="0" dy="16">60,60</tspan></text></g>
<g id="collect_2_11_221" transform="translate(302.8,1001.7)"><circle class="c" r="14.5"/><text y="-11.5">collect<tspan x="0" dy="16">2,11,221</tspan><tspan x="0" dy="16">60,60</tspan></text></g>
<g id="carry_2_11_417" transform="translate(378.4,1001.7)"><circle class="c" r="14.5"/><text y="-11.5">carry<tspan x="0" dy="16">2,11,417</tspan><tspan x="0" dy="16">60,88</tspan></text></g>
<g id="deposit_2_11_417" transform="translate(454,1001.7)"><circle class="c" r="14.5"/><text y="-11.5">deposit<tspan x="0" dy="16">2,11,417</tspan><tspan x="0" dy="16">88,88</tspan></text></g>
<g id="R2-238" transform="translate(76,1020.6)"><circle class="g" r="14.5"/><text y="-3.4">R2-238<tspan x="0" dy="16">0,0</tspan></text></g>
<g id="go_2_238_238" transform="translate(151.6,1020.6)"><circle class="c" r="14.5"/><text y="-11.5">go<tspan x="0" dy="16">2,238,238</tspan><tspan x="0" dy="16">0,50</tspan></text></g>
<g id="go_2_238_221" transform="translate(227.2,1020.6)"><circle class="c" r="14.5"/><text y="-11.5">go<tspan x="0" dy="16">2,238,221</tspan><tspan x="0" dy="16">50,60</tspan></text></g>
<g id="R8-455" transform="translate(76,1058.4)"><circle class="g" r="14.5"/><text y="-3.4">R8-455<tspan x="0" dy="16">0,0</tspan></text></g>
<g id="go_8_455_455" transform="translate(151.6,1058.4)"><circle class="c" r="14.5"/><text y="-11.5">go<tspan x="0" dy="16">8,455,455</tspan><tspan x="0" dy="16">0,50</tspan></text></g>
<g id="go_8_455_483" transform="translate(227.2,1058.4)"><circle class="c" r="14.5"/><text y="-11.5">go<tspan x="0" dy="16">8,455,483</tspan><tspan x="0" dy="16">50,85</tspan></text></g>
<g id="go_8_483_483" transform="translate(302.8,1058.4)"><circle class="c" r="14.5"/><text y="-11.5">go<tspan x="0" dy="16">8,483,483</tspan><tspan x="0" dy="16">85,88</tspan></text></g>
<g id="go_8_74_end" transform="translate(907.6,1068)"><circle class="c" r="14.5"/><text y="-11.5">go<tspan x="0" dy="16">8,74,-1</tspan><tspan x="0" dy="16">117,304</tspan></text></g>
<g id="O13-495" transform="translate(76,1096.2)"><circle class="o" r="14.5"/><text y="-3.4">O13-495<tspan x="0" dy="16">60,60</tspan></text></g>
<g id="go_26_476_end" transform="translate(529.6,1096.2)"><circle class="c" r="14.5"/><text y="-11.5">go<tspan x="0" dy="16">26,476,-1</tspan><tspan x="0" dy="16">96,304</tspan></text></g>
<g id="collect_8_14_483" transform="translate(680.8,1096.2)"><circle class="c" r="14.5"/><text y="-11.5">collect<tspan x="0" dy="16">8,14,483</tspan><tspan x="0" dy="16">88,88</tspan></text></g>
<g id="carry_8_14_74" transform="translate(756.4,1096.2)"><circle class="c" r="14.5"/><text y="-11.5">carry<tspan x="0" dy="16">8,14,74</tspan><tspan x="0" dy="16">88,117</tspan></text></g>
<g id="deposit_8_14_74" transform="translate(832,1096.2)"><circle class="c" r="14.5"/><text y="-11.5">deposit<tspan x="0" dy="16">8,14,74</tspan><tspan x="0" dy="16">117,117</tspan></text></g>
<g id="collect_26_13_495" transform="translate(302.8,1115.1)"><circle class="c" r="14.5"/><text y="-11.5">collect<tspan x="0" dy="16">26,13,495</tspan><tspan x="0" dy="16">60,60</tspan></text></g>
<g id="carry_26_13_476" transform="translate(378.4,1115.1)"><circle class="c" r="14.5"/><text y="-11.5">carry<tspan x="0" dy="16">26,13,476</tspan><tspan x="0" dy="16">60,96</tspan></text></g>
<g id="deposit_26_13_476" transform="translate(454,1115.1)"><circle class="c" r="14.5"/><text y="-11.5">deposit<tspan x="0" dy="16">26,13,476</tspan><tspan x="0" dy="16">96,96</tspan></text></g>
<g id="go_4_74_end" transform="translate(907.6,1115.1)"><circle class="c" r="14.5"/><text y="-11.5">go<tspan x="0" dy="16">4,74,-1</tspan><tspan x="0" dy="16">160,304</tspan></text></g>
<g id="R26-469" transform="translate(76,1134)"><circle class="g" r="14.5"/><text y="-3.4">R26-469<tspan x="0" dy="16">0,0</tspan></text></g>
<g id="go_26_469_469" transform="translate(151.6,1134)"><circle class="c" r="14.5"/><text y="-11.5">go<tspan x="0" dy="16">26,469,469</tspan><tspan x="0" dy="16">0,50</tspan></text></g>
<g id="go_26_469_495" transform="translate(227.2,1134)"><circle class="c" r="14.5"/><text y="-11.5">go<tspan x="0" dy="16">26,469,495</tspan><tspan x="0" dy="16">50,60</tspan></text></g>
<g id="go_6_222_end" transform="translate(529.6,1134)"><circle class="c" r="14.5"/><text y="-11.5">go<tspan x="0" dy="16">6,222,-1</tspan><tspan x="0" dy="16">92,304</tspan></text></g>
<g id="R11-519" transform="translate(76,1171.8)"><circle class="g" r="14.5"/><text y="-3.4">R11-519<tspan x="0" dy="16">46,46</tspan></text></g>
<g id="go_11_519_519" transform="translate(151.6,1171.8)"><circle class="c" r="14.5"/><text y="-11.5">go<tspan x="0" dy="16">11,519,519</tspan><tspan x="0" dy="16">46,50</tspan></text></g>
<g id="go_11_519_538" transform="translate(227.2,1171.8)"><circle class="c" r="14.5"/><text y="-11.5">go<tspan x="0" dy="16">11,519,538</tspan><tspan x="0" dy="16">50,85</tspan></text></g>
<g id="go_11_538_538" transform="translate(302.8,1171.8)"><circle class="c" r="14.5"/><text y="-11.5">go<tspan x="0" dy="16">11,538,538</tspan><tspan x="0" dy="16">85,117</tspan></text></g>
<g id="op5" transform="translate(529.6,1171.8)"><circle class="r" r="14.5"/><text y="-3.4">op5<tspan x="0" dy="16">92,92</tspan></text></g>
<g id="O12-556" transform="translate(76,1209.6)"><circle class="o" r="14.5"/><text y="-3.4">O12-556<tspan x="0" dy="16">60,60</tspan></text></g>
<g id="go_2_417_373" transform="translate(529.6,1209.6)"><circle class="c" r="14.5"/><text y="-11.5">go<tspan x="0" dy="16">2,417,373</tspan><tspan x="0" dy="16">88,259</tspan></text></g>
<g id="collect_25_12_556" transform="translate(302.8,1228.5)"><circle class="c" r="14.5"/><text y="-11.5">collect<tspan x="0" dy="16">25,12,556</tspan><tspan x="0" dy="16">60,60</tspan></text></g>
<g id="carry_25_12_271" transform="translate(378.4,1228.5)"><circle class="c" r="14.5"/><text y="-11.5">carry<tspan x="0" dy="16">25,12,271</tspan><tspan x="0" dy="16">60,77</tspan></text></g>
<g id="deposit_25_12_271" transform="translate(454,1228.5)"><circle class="c" r="14.5"/><text y="-11.5">deposit<tspan x="0" dy="16">25,12,271</tspan><tspan x="0" dy="16">77,77</tspan></text></g>
<g id="R25-582" transform="translate(76,1247.4)"><circle class="g" r="14.5"/><text y="-3.4">R25-582<tspan x="0" dy="16">0,0</tspan></text></g>
<g id="go_25_582_582" transform="translate(151.6,1247.4)"><circle class="c" r="14.5"/><text y="-11.5">go<tspan x="0" dy="16">25,582,582</tspan><tspan x="0" dy="16">0,50</tspan></text></g>
<g id="go_25_582_556" transform="translate(227.2,1247.4)"><circle class="c" r="14.5"/><text y="-11.5">go<tspan x="0" dy="16">25,582,556</tspan><tspan x="0" dy="16">50,60</tspan></text></g>
<g id="go_4_68_68" transform="translate(529.6,1247.4)"><circle class="c" r="14.5"/><text y="-11.5">go<tspan x="0" dy="16">4,68,68</tspan><tspan x="0" dy="16">79,85</tspan></text></g>
<g id="go_4_68_69" transform="translate(605.2,1247.4)"><circle class="c" r="14.5"/><text y="-11.5">go<tspan x="0" dy="16">4,68,69</tspan><tspan x="0" dy="16">85,155</tspan></text></g>
<g id="R12-442" transform="translate(76,1285.2)"><circle class="g" r="14.5"/><text y="-3.4">R12-442<tspan x="0" dy="16">0,0</tspan></text></g>
<g id="go_12_442_442" transform="translate(151.6,1285.2)"><circle class="c" r="14.5"/><text y="-11.5">go<tspan x="0" dy="16">12,442,442</tspan><tspan x="0" dy="16">0,50</tspan></text></g>
<g id="go_12_442_410" transform="translate(227.2,1285.2)"><circle class="c" r="14.5"/><text y="-11.5">go<tspan x="0" dy="16">12,442,410</tspan><tspan x="0" dy="16">50,85</tspan></text></g>
<g id="go_12_410_410" transform="translate(302.8,1285.2)"><circle class="c" r="14.5"/><text y="-11.5">go<tspan x="0" dy="16">12,410,410</tspan><tspan x="0" dy="16">85,138</tspan></text></g>
<g id="op16" transform="translate(529.6,1304.1)"><circle class="r" r="14.5"/><text y="-3.4">op16<tspan x="0" dy="16">88,88</tspan></text></g>
<g id="O14-483" transform="translate(605.2,1304.1)"><circle class="o" r="14.5"/><text y="-3.4">O14-483<tspan x="0" dy="16">88,88</tspan></text></g>
<g id="R9-467" transform="translate(76,1323)"><circle class="g" r="14.5"/><text y="-3.4">R9-467<tspan x="0" dy="16">0,0</tspan></text></g>
<g id="go_9_467_466" transform="translate(151.6,1323)"><circle class="c" r="14.5"/><text y="-11.5">go<tspan x="0" dy="16">9,467,466</tspan><tspan x="0" dy="16">0,50</tspan></text></g>
<g id="go_9_466_513" transform="translate(227.2,1323)"><circle class="c" r="14.5"/><text y="-11.5">go<tspan x="0" dy="16">9,466,513</tspan><tspan x="0" dy="16">50,85</tspan></text></g>
<g id="go_9_513_513" transform="translate(302.8,1323)"><circle class="c" r="14.5"/><text y="-11.5">go<tspan x="0" dy="16">9,513,513</tspan><tspan x="0" dy="16">85,146</tspan></text></g>
<g id="R24-44" transform="translate(76,1360.8)"><circle class="g" r="14.5"/><text y="-3.4">R24-44<tspan x="0" dy="16">0,0</tspan></text></g>
<g id="go_24_44_44_a" transform="translate(151.6,1360.8)"><circle class="c" r="14.5"/><text y="-11.5">go<tspan x="0" dy="16">24,44,44</tspan><tspan x="0" dy="16">0,50</tspan></text></g>
<g id="go_24_44_44_b" transform="translate(227.2,1360.8)"><circle class="c" r="14.5"/><text y="-11.5">go<tspan x="0" dy="16">24,44,44</tspan><tspan x="0" dy="16">50,85</tspan></text></g>
<g id="go_24_44_89" transform="translate(302.8,1360.8)"><circle class="c" r="14.5"/><text y="-11.5">go<tspan x="0" dy="16">24,44,89</tspan><tspan x="0" dy="16">85,173</tspan></text></g>
<g id="go_25_271_270" transform="translate(529.6,1360.8)"><circle class="c" r="14.5"/><text y="-11.5">go<tspan x="0" dy="16">25,271,270</tspan><tspan x="0" dy="16">77,85</tspan></text></g>
<g id="go_25_270_270" transform="translate(605.2,1360.8)"><circle class="c" r="14.5"/><text y="-11.5">go<tspan x="0" dy="16">25,270,270</tspan><tspan x="0" dy="16">85,123</tspan></text></g>
<g id="op29" transform="translate(983.2,1360.8)"><circle class="r" r="14.5"/><text y="-3.4">op29<tspan x="0" dy="16">198,198</tspan></text></g>
<g id="O24-410" transform="translate(1058.8,1360.8)"><circle class="o" r="14.5"/><text y="-3.4">O24-410<tspan x="0" dy="16">198,198</tspan></text></g>
<g id="collect_24_22_89" transform="translate(756.4,1379.7)"><circle class="c" r="14.5"/><text y="-11.5">collect<tspan x="0" dy="16">24,22,89</tspan><tspan x="0" dy="16">173,173</tspan></text></g>
<g id="carry_24_22_531" transform="translate(832,1379.7)"><circle class="c" r="14.5"/><text y="-11.5">carry<tspan x="0" dy="16">24,22,531</tspan><tspan x="0" dy="16">173,198</tspan></text></g>
<g id="deposit_24_22_531" transform="translate(907.6,1379.7)"><circle class="c" r="14.5"/><text y="-11.5">deposit<tspan x="0" dy="16">24,22,531</tspan><tspan x="0" dy="16">198,198</tspan></text></g>
<g id="R10-67" transform="translate(76,1398.6)"><circle class="g" r="14.5"/><text y="-3.4">R10-67<tspan x="0" dy="16">0,0</tspan></text></g>
<g id="go_10_67_41" transform="translate(151.6,1398.6)"><circle class="c" r="14.5"/><text y="-11.5">go<tspan x="0" dy="16">10,67,41</tspan><tspan x="0" dy="16">0,50</tspan></text></g>
<g id="go_10_41_41" transform="translate(227.2,1398.6)"><circle class="c" r="14.5"/><text y="-11.5">go<tspan x="0" dy="16">10,41,41</tspan><tspan x="0" dy="16">50,85</tspan></text></g>
<g id="go_10_41_130" transform="translate(302.8,1398.6)"><circle class="c" r="14.5"/><text y="-11.5">go<tspan x="0" dy="16">10,41,130</tspan><tspan x="0" dy="16">85,155</tspan></text></g>
<g id="op30" transform="translate(605.2,1398.6)"><circle class="r" r="14.5"/><text y="-3.4">op30<tspan x="0" dy="16">173,173</tspan></text></g>
<g id="O22-89" transform="translate(680.8,1398.6)"><circle class="o" r="14.5"/><text y="-3.4">O22-89<tspan x="0" dy="16">173,173</tspan></text></g>
<g id="go_24_531_556" transform="translate(983.2,1398.6)"><circle class="c" r="14.5"/><text y="-11.5">go<tspan x="0" dy="16">24,531,556</tspan><tspan x="0" dy="16">198,221</tspan></text></g>
<g id="collect_10_21_130" transform="translate(378.4,1417.5)"><circle class="c" r="14.5"/><text y="-11.5">collect<tspan x="0" dy="16">10,21,130</tspan><tspan x="0" dy="16">155,155</tspan></text></g>
<g id="carry_10_21_383" transform="translate(454,1417.5)"><circle class="c" r="14.5"/><text y="-11.5">carry<tspan x="0" dy="16">10,21,383</tspan><tspan x="0" dy="16">155,173</tspan></text></g>
<g id="deposit_10_21_383" transform="translate(529.6,1417.5)"><circle class="c" r="14.5"/><text y="-11.5">deposit<tspan x="0" dy="16">10,21,383</tspan><tspan x="0" dy="16">173,173</tspan></text></g>
<g id="op33" transform="translate(76,1436.4)"><circle class="r" r="14.5"/><text y="-3.4">op33<tspan x="0" dy="16">100,100</tspan></text></g>
<g id="O21-130" transform="translate(151.6,1436.4)"><circle class="o" r="14.5"/><text y="-3.4">O21-130<tspan x="0" dy="16">100,100</tspan></text></g>
<g id="go_10_383_365" transform="translate(605.2,1436.4)"><circle class="c" r="14.5"/><text y="-11.5">go<tspan x="0" dy="16">10,383,365</tspan><tspan x="0" dy="16">173,274</tspan></text></g>
<g id="collect_4_23_69" transform="translate(680.8,812.7)"><circle class="c" r="14.5"/><text y="-11.5">collect<tspan x="0" dy="16">4,23,69</tspan><tspan x="0" dy="16">155,155</tspan></text></g>
<g id="carry_4_23_74" transform="translate(756.4,812.7)"><circle class="c" r="14.5"/><text y="-11.5">carry<tspan x="0" dy="16">4,23,74</tspan><tspan x="0" dy="16">155,160</tspan></text></g>
<g id="deposit_4_23_74" transform="translate(832,812.7)"><circle class="c" r="14.5"/><text y="-11.5">deposit<tspan x="0" dy="16">4,23,74</tspan><tspan x="0" dy="16">160,160</tspan></text></g>
<g id="op15" transform="translate(907.6,1180)"><circle class="r" r="14.5"/><text y="-3.4">op15<tspan x="0" dy="16">117,117</tspan></text></g>
<g id="O15-538" transform="translate(983.2,1180)"><circle class="o" r="14.5"/><text y="-3.4">O15-538<tspan x="0" dy="16">117,117</tspan></text></g>
<g id="collect_11_15_538" transform="translate(1058.8,1200)"><circle class="c" r="14.5"/><text y="-11.5">collect<tspan x="0" dy="16">11,15,538</tspan><tspan x="0" dy="16">117,117</tspan></text></g>
<g id="carry_11_15_523" transform="translate(1134.4,1200)"><circle class="c" r="14.5"/><text y="-11.5">carry<tspan x="0" dy="16">11,15,523</tspan><tspan x="0" dy="16">117,123</tspan></text></g>
<g id="deposit_11_15_523" transform="translate(1210,1200)"><circle class="c" r="14.5"/><text y="-11.5">deposit<tspan x="0" dy="16">11,15,523</tspan><tspan x="0" dy="16">123,123</tspan></text></g>
<g id="go_11_523_end" transform="translate(1285.6,1167)"><circle class="c" r="14.5"/><text y="-11.5">go<tspan x="0" dy="16">11,523,-1</tspan><tspan x="0" dy="16">123,304</tspan></text></g>
<g id="op14" transform="translate(1285.6,1233)"><circle class="r" r="14.5"/><text y="-3.4">op14<tspan x="0" dy="16">123,123</tspan></text></g>
<g id="O16-270" transform="translate(1361.2,1233)"><circle class="o" r="14.5"/><text y="-3.4">O16-270<tspan x="0" dy="16">123,123</tspan></text></g>
<g id="collect_25_16_270" transform="translate(1436.8,1251.7)"><circle class="c" r="14.5"/><text y="-11.5">collect<tspan x="0" dy="16">25,16,270</tspan><tspan x="0" dy="16">123,123</tspan></text></g>
<g id="carry_25_16_196" transform="translate(1512.4,1251.7)"><circle class="c" r="14.5"/><text y="-11.5">carry<tspan x="0" dy="16">25,16,196</tspan><tspan x="0" dy="16">123,138</tspan></text></g>
<g id="deposit_25_16_196" transform="translate(1588,1251.7)"><circle class="c" r="14.5"/><text y="-11.5">deposit<tspan x="0" dy="16">25,16,196</tspan><tspan x="0" dy="16">138,138</tspan></text></g>
<g id="go_25_196_118" transform="translate(1663.6,1226)"><circle class="c" r="14.5"/><text y="-11.5">go<tspan x="0" dy="16">25,196,118</tspan><tspan x="0" dy="16">138,289</tspan></text></g>
<g id="op13" transform="translate(1663.6,1315.7)"><circle class="r" r="14.5"/><text y="-3.4">op13<tspan x="0" dy="16">138,138</tspan></text></g>
<g id="O19-410" transform="translate(1739.2,1315.7)"><circle class="o" r="14.5"/><text y="-3.4">O19-410<tspan x="0" dy="16">138,138</tspan></text></g>
<g id="collect_12_19_410" transform="translate(1814.8,1335)"><circle class="c" r="14.5"/><text y="-11.5">collect<tspan x="0" dy="16">12,19,410</tspan><tspan x="0" dy="16">138,138</tspan></text></g>
<g id="carry_12_19_247" transform="translate(1890.4,1335)"><circle class="c" r="14.5"/><text y="-11.5">carry<tspan x="0" dy="16">12,19,247</tspan><tspan x="0" dy="16">138,146</tspan></text></g>
<g id="deposit_12_19_247" transform="translate(1966,1335)"><circle class="c" r="14.5"/><text y="-11.5">deposit<tspan x="0" dy="16">12,19,247</tspan><tspan x="0" dy="16">146,146</tspan></text></g>
<g id="go_12_247_end" transform="translate(2041.6,1294)"><circle class="c" r="14.5"/><text y="-11.5">go<tspan x="0" dy="16">12,247,-1</tspan><tspan x="0" dy="16">146,304</tspan></text></g>
<g id="op12" transform="translate(2041.6,1375)"><circle class="r" r="14.5"/><text y="-3.4">op12<tspan x="0" dy="16">146,146</tspan></text></g>
<g id="O20-513" transform="translate(2117.2,1375)"><circle class="o" r="14.5"/><text y="-3.4">O20-513<tspan x="0" dy="16">146,146</tspan></text></g>
<g id="collect_9_20_513" transform="translate(2192.8,1364)"><circle class="c" r="14.5"/><text y="-11.5">collect<tspan x="0" dy="16">9,20,513</tspan><tspan x="0" dy="16">146,146</tspan></text></g>
<g id="carry_9_20_370" transform="translate(2268.4,1364)"><circle class="c" r="14.5"/><text y="-11.5">carry<tspan x="0" dy="16">9,20,370</tspan><tspan x="0" dy="16">146,155</tspan></text></g>
<g id="deposit_9_20_370" transform="translate(2344,1364)"><circle class="c" r="14.5"/><text y="-11.5">deposit<tspan x="0" dy="16">9,20,370</tspan><tspan x="0" dy="16">155,155</tspan></text></g>
<g id="op17" transform="translate(2419.6,1334)"><circle class="r" r="14.5"/><text y="-3.4">op17<tspan x="0" dy="16">155,155</tspan></text></g>
<g id="go_9_370_410" transform="translate(2419.6,1394)"><circle class="c" r="14.5"/><text y="-11.5">go<tspan x="0" dy="16">9,370,410</tspan><tspan x="0" dy="16">155,198</tspan></text></g>
<g id="collect_9_24_410" transform="translate(2495.2,1391)"><circle class="c" r="14.5"/><text y="-11.5">collect<tspan x="0" dy="16">9,24,410</tspan><tspan x="0" dy="16">198,198</tspan></text></g>
<g id="carry_9_24_379" transform="translate(2570.8,1391)"><circle class="c" r="14.5"/><text y="-11.5">carry<tspan x="0" dy="16">9,24,379</tspan><tspan x="0" dy="16">198,212</tspan></text></g>
<g id="deposit_9_24_379" transform="translate(2646.4,1391)"><circle class="c" r="14.5"/><text y="-11.5">deposit<tspan x="0" dy="16">9,24,379</tspan><tspan x="0" dy="16">212,212</tspan></text></g>
<g id="go_9_379_end" transform="translate(2722,1367)"><circle class="c" r="14.5"/><text y="-11.5">go<tspan x="0" dy="16">9,379,-1</tspan><tspan x="0" dy="16">212,304</tspan></text></g>
<g id="op28" transform="translate(2722,1434)"><circle class="r" r="14.5"/><text y="-3.4">op28<tspan x="0" dy="16">212,212</tspan></text></g>
<g id="O25-203" transform="translate(2797.6,1434)"><circle class="o" r="14.5"/><text y="-3.4">O25-203<tspan x="0" dy="16">212,212</tspan></text></g>
<g id="collect_7_25_203" transform="translate(2873.2,799)"><circle class="c" r="14.5"/><text y="-11.5">collect<tspan x="0" dy="16">7,25,203</tspan><tspan x="0" dy="16">212,212</tspan></text></g>
<g id="carry_7_25_259" transform="translate(2948.8,799)"><circle class="c" r="14.5"/><text y="-11.5">carry<tspan x="0" dy="16">7,25,259</tspan><tspan x="0" dy="16">212,221</tspan></text></g>
<g id="deposit_7_25_259" transform="translate(3024.4,799)"><circle class="c" r="14.5"/><text y="-11.5">deposit<tspan x="0" dy="16">7,25,259</tspan><tspan x="0" dy="16">221,221</tspan></text></g>
<g id="go_7_259_end" transform="translate(3100,768)"><circle class="c" r="14.5"/><text y="-11.5">go<tspan x="0" dy="16">7,259,-1</tspan><tspan x="0" dy="16">221,304</tspan></text></g>
<g id="op27" transform="translate(3100,830)"><circle class="r" r="14.5"/><text y="-3.4">op27<tspan x="0" dy="16">221,221</tspan></text></g>
<g id="O26-556" transform="translate(3175.6,830)"><circle class="o" r="14.5"/><text y="-3.4">O26-556<tspan x="0" dy="16">221,221</tspan></text></g>
<g id="collect_24_26_556" transform="translate(3251.2,850)"><circle class="c" r="14.5"/><text y="-11.5">collect<tspan x="0" dy="16">24,26,556</tspan><tspan x="0" dy="16">221,221</tspan></text></g>
<g id="carry_24_26_519" transform="translate(3326.8,850)"><circle class="c" r="14.5"/><text y="-11.5">carry<tspan x="0" dy="16">24,26,519</tspan><tspan x="0" dy="16">221,241</tspan></text></g>
<g id="deposit_24_26_519" transform="translate(3402.4,850)"><circle class="c" r="14.5"/><text y="-11.5">deposit<tspan x="0" dy="16">24,26,519</tspan><tspan x="0" dy="16">241,241</tspan></text></g>
<g id="go_24_519_end" transform="translate(3478,824)"><circle class="c" r="14.5"/><text y="-11.5">go<tspan x="0" dy="16">24,519,-1</tspan><tspan x="0" dy="16">241,304</tspan></text></g>
<g id="op26" transform="translate(3478,874)"><circle class="r" r="14.5"/><text y="-3.4">op26<tspan x="0" dy="16">241,241</tspan></text></g>
<g id="O27-244" transform="translate(3553.6,874)"><circle class="o" r="14.5"/><text y="-3.4">O27-244<tspan x="0" dy="16">241,241</tspan></text></g>
<g id="collect_13_27_244" transform="translate(3629.2,743)"><circle class="c" r="14.5"/><text y="-11.5">collect<tspan x="0" dy="16">13,27,244</tspan><tspan x="0" dy="16">241,241</tspan></text></g>
<g id="carry_13_27_417" transform="translate(3704.8,743)"><circle class="c" r="14.5"/><text y="-11.5">carry<tspan x="0" dy="16">13,27,417</tspan><tspan x="0" dy="16">241,259</tspan></text></g>
<g id="deposit_13_27_417" transform="translate(3780.4,743)"><circle class="c" r="14.5"/><text y="-11.5">deposit<tspan x="0" dy="16">13,27,417</tspan><tspan x="0" dy="16">259,259</tspan></text></g>
<g id="go_13_417_end" transform="translate(3856,721.7)"><circle class="c" r="14.5"/><text y="-11.5">go<tspan x="0" dy="16">13,417,-1</tspan><tspan x="0" dy="16">259,304</tspan></text></g>
<g id="op25" transform="translate(3856,765)"><circle class="r" r="14.5"/><text y="-3.4">op25<tspan x="0" dy="16">259,259</tspan></text></g>
<g id="O28-373" transform="translate(3931.6,765)"><circle class="o" r="14.5"/><text y="-3.4">O28-373<tspan x="0" dy="16">259,259</tspan></text></g>
<g id="collect_2_28_373" transform="translate(4007.2,784)"><circle class="c" r="14.5"/><text y="-11.5">collect<tspan x="0" dy="16">2,28,373</tspan><tspan x="0" dy="16">259,259</tspan></text></g>
<g id="carry_2_28_90" transform="translate(4082.8,784)"><circle class="c" r="14.5"/><text y="-11.5">carry<tspan x="0" dy="16">2,28,90</tspan><tspan x="0" dy="16">259,274</tspan></text></g>
<g id="deposit_2_28_90" transform="translate(4158.4,784)"><circle class="c" r="14.5"/><text y="-11.5">deposit<tspan x="0" dy="16">2,28,90</tspan><tspan x="0" dy="16">274,274</tspan></text></g>
<g id="go_2_90_end" transform="translate(4234,763)"><circle class="c" r="14.5"/><text y="-11.5">go<tspan x="0" dy="16">2,90,-1</tspan><tspan x="0" dy="16">274,304</tspan></text></g>
<g id="op24" transform="translate(4234,804)"><circle class="r" r="14.5"/><text y="-3.4">op24<tspan x="0" dy="16">274,274</tspan></text></g>
<g id="O29-365" transform="translate(4309.6,804)"><circle class="o" r="14.5"/><text y="-3.4">O29-365<tspan x="0" dy="16">274,274</tspan></text></g>
<g id="collect_10_29_365" transform="translate(4385.2,823)"><circle class="c" r="14.5"/><text y="-11.5">collect<tspan x="0" dy="16">10,29,365</tspan><tspan x="0" dy="16">274,274</tspan></text></g>
<g id="carry_10_29_510" transform="translate(4460.8,823)"><circle class="c" r="14.5"/><text y="-11.5">carry<tspan x="0" dy="16">10,29,510</tspan><tspan x="0" dy="16">274,289</tspan></text></g>
<g id="deposit_10_29_510" transform="translate(4536.4,823)"><circle class="c" r="14.5"/><text y="-11.5">deposit<tspan x="0" dy="16">10,29,510</tspan><tspan x="0" dy="16">289,289</tspan></text></g>
<g id="go_10_510_end" transform="translate(4612,803)"><circle class="c" r="14.5"/><text y="-11.5">go<tspan x="0" dy="16">10,510,-1</tspan><tspan x="0" dy="16">289,304</tspan></text></g>
<g id="op23" transform="translate(4612,843)"><circle class="r" r="14.5"/><text y="-3.4">op23<tspan x="0" dy="16">289,289</tspan></text></g>
<g id="O30-118" transform="translate(4687.6,843)"><circle class="o" r="14.5"/><text y="-3.4">O30-118<tspan x="0" dy="16">289,289</tspan></text></g>
<g id="collect_25_30_118" transform="translate(4763.2,869)"><circle class="c" r="14.5"/><text y="-11.5">collect<tspan x="0" dy="16">25,30,118</tspan><tspan x="0" dy="16">289,289</tspan></text></g>
<g id="carry_25_30_399" transform="translate(4838.8,869)"><circle class="c" r="14.5"/><text y="-11.5">carry<tspan x="0" dy="16">25,30,399</tspan><tspan x="0" dy="16">289,304</tspan></text></g>
<g id="deposit_25_30_399" transform="translate(4914.4,869)"><circle class="c" r="14.5"/><text y="-11.5">deposit<tspan x="0" dy="16">25,30,399</tspan><tspan x="0" dy="16">304,304</tspan></text></g>
<g id="op31" transform="translate(4990,846.7)"><circle class="r" r="14.5"/><text y="-3.4">op31<tspan x="0" dy="16">304,304</tspan></text></g>
<g id="go_25_399_end" transform="translate(4990,892)"><circle class="c" r="14.5"/><text y="-11.5">go<tspan x="0" dy="16">25,399,-1</tspan><tspan x="0" dy="16">304,304</tspan></text></g>
</g>
</g>
</svg>
